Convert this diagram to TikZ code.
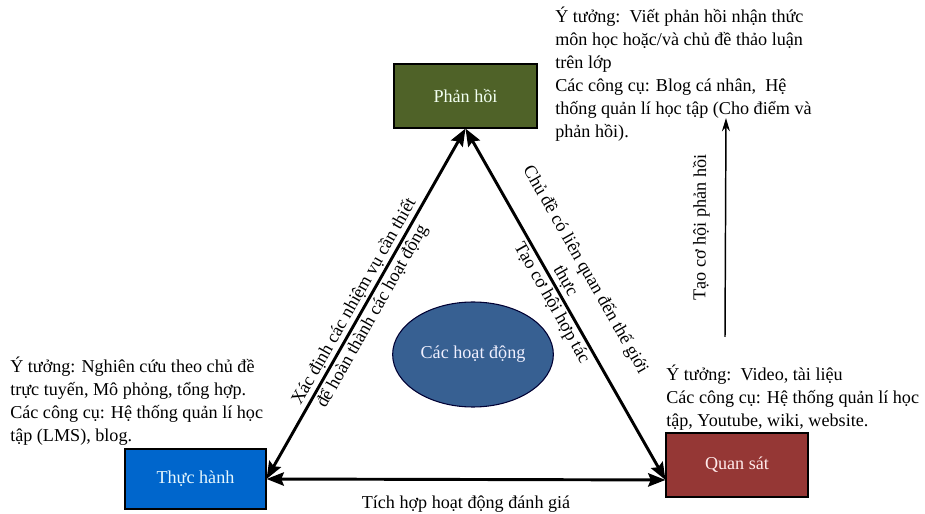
\documentclass[tikz,border=0pt]{standalone}
\usepackage{fontspec}
\setmainfont{Liberation Serif}
\usetikzlibrary{calc,arrows.meta,shapes.geometric}

\definecolor{phanhoi}{RGB}{79,98,40}
\definecolor{thuchanh}{RGB}{0,102,204}
\definecolor{quansat}{RGB}{149,55,53}
\definecolor{hoatdong}{RGB}{55,96,146}

\begin{document}
\begin{tikzpicture}[x=0.75pt, y=0.75pt,
		font=\fontsize{13.6}{17.25}\selectfont,
		box/.style={draw=black, line width=0.8pt, inner sep=0pt},
		bigarrow/.style={line width=2.2pt, {Stealth[length=13pt, width=10pt, inset=2pt]}-{Stealth[length=13pt, width=10pt, inset=2pt]}},
		edgelabel/.style={sloped, inner sep=1.5pt},
		note/.style={anchor=north west, align=left, inner sep=0pt}]
			%%%%% START %%%%%
			
			\useasboundingbox (0, 0) rectangle (925, 514);
			
			\node[box, fill=phanhoi, text=green!5!white, minimum width=107.25pt, minimum height=48pt] (ph) at (465.5, 418) {Phản hồi};
			\node[box, fill=thuchanh, text=cyan!10!white, minimum width=105.75pt, minimum height=45pt] (th) at (195.5, 35) {Thực hành};
			\node[box, fill=quansat, text=red!8!white, minimum width=106.5pt, minimum height=48pt] (qs) at (737, 49) {Quan sát};
			\node[draw=black!80!blue, line width=0.8pt, ellipse, fill=hoatdong, text=blue!6!white, minimum width=120pt, minimum height=78.75pt] (hd) at (473, 159.5) {Các hoạt động};
			
			\coordinate (qsin) at ($(qs.south west)!0.27!(qs.north west)$);
			
			\draw[bigarrow] (th.east) -- (ph.south)
				node[pos=0.49, edgelabel, above] {Xác định các nhiệm vụ cần thiết}
				node[pos=0.48, edgelabel, below] {để hoàn thành các hoạt động};
			\draw[bigarrow] (ph.south) -- (qsin)
				node[pos=0.45, edgelabel, above, align=center] {Chủ đề có liên quan đến thế giới\\thực}
				node[pos=0.48, edgelabel, below] {Tạo cơ hội hợp tác};
			\draw[bigarrow] (th.east) -- (qsin)
				node[midway, below=8pt] {Tích hợp hoạt động đánh giá};
			
			\coordinate (fb1) at (725, 177);
			\coordinate (fb2) at (726, 396);
			\draw[line width=1.1pt, -{Stealth[length=10pt, width=6pt]}] (fb1) -- (fb2)
				node[midway, sloped, above=8pt] {Tạo cơ hội phản hồi};
			
			\node[note] (ideaph) at (555, 507) {Ý tưởng:\ \ Viết phản hồi nhận thức\\môn học hoặc/và chủ đề thảo luận\\trên lớp\\Các công cụ: Blog cá nhân,\ \ Hệ\\thống quản lí học tập (Cho điểm và\\phản hồi).};
			\node[note] (ideath) at (10, 157) {Ý tưởng: Nghiên cứu theo chủ đề\\trực tuyến, Mô phỏng, tổng hợp.\\Các công cụ: Hệ thống quản lí học\\tập (LMS), blog.};
			\node[note] (ideaqs) at (666, 149) {Ý tưởng:\ \ Video, tài liệu\\Các công cụ: Hệ thống quản lí học\\tập, Youtube, wiki, website.};
			
			%%%%% END %%%%%
\end{tikzpicture}
\end{document}
